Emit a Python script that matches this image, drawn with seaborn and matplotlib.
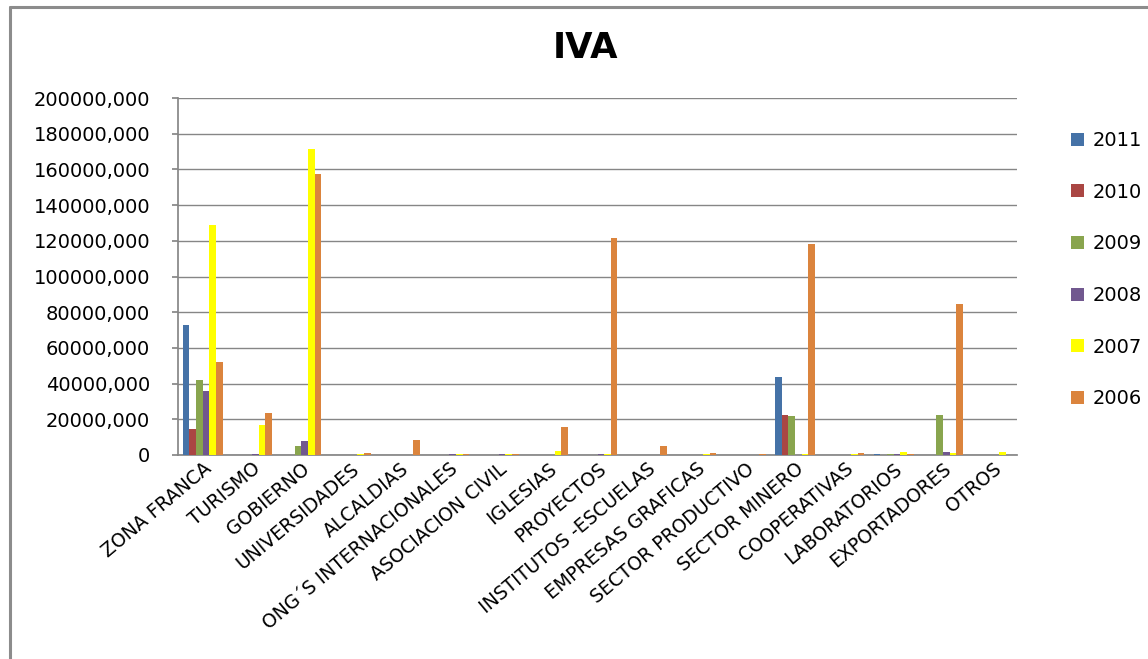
import matplotlib
matplotlib.use("Agg")
import matplotlib.pyplot as plt
from matplotlib.lines import Line2D
import seaborn as sns
import pandas as pd

categories = ["ZONA FRANCA", "TURISMO", "GOBIERNO", "UNIVERSIDADES", "ALCALDIAS",
              "ONG´S INTERNACIONALES", "ASOCIACION CIVIL", "IGLESIAS", "PROYECTOS",
              "INSTITUTOS -ESCUELAS", "EMPRESAS GRAFICAS", "SECTOR PRODUCTIVO",
              "SECTOR MINERO", "COOPERATIVAS", "LABORATORIOS", "EXPORTADORES", "OTROS"]
years = ["2011", "2010", "2009", "2008", "2007", "2006"]

v2011 = [73000, 0, 0, 0, 0, 0, 0, 0, 0, 0, 0, 0, 43700, 0, 800, 0, 0]
v2010 = [14500, 0, 0, 0, 0, 0, 0, 0, 0, 0, 0, 0, 22400, 0, 0, 0, 0]
v2009 = [42000, 0, 5000, 0, 0, 0, 0, 0, 0, 0, 0, 0, 21800, 0, 800, 22400, 0]
v2008 = [36000, 800, 7800, 0, 0, 800, 800, 0, 800, 0, 0, 0, 0, 0, 800, 1800, 0]
v2007 = [129000, 17000, 171500, 800, 0, 800, 800, 2200, 800, 0, 800, 0, 800, 800, 1800, 1200, 1800]
v2006 = [52000, 23500, 157500, 1200, 8400, 800, 800, 15700, 121500, 5000, 1200, 800, 118000, 1200, 800, 84500, 0]

colors = ["#4572A7", "#AA4643", "#89A54E", "#71588F", "#FFFF00", "#DB843D"]
yticks = [0, 20000, 40000, 60000, 80000, 100000, 120000, 140000, 160000, 180000, 200000]

series = [v2011, v2010, v2009, v2008, v2007, v2006]
rows = []
for y, vals in zip(years, series):
    for c, v in zip(categories, vals):
        rows.append({"cat": c, "year": y, "val": v})
df = pd.DataFrame(rows)

sns.set_theme(style="white")
plt.rcParams["font.family"] = ["DejaVu Sans"]
plt.rcParams["text.color"] = "black"
plt.rcParams["xtick.color"] = "black"
plt.rcParams["ytick.color"] = "black"

W, H = 1148, 659
fig = plt.figure(figsize=(W / 100, H / 100), dpi=100)
ax = fig.add_axes([178 / W, 1 - 455 / H, (1017 - 178) / W, (455 - 98) / H])

sns.barplot(data=df, x="cat", y="val", hue="year", order=categories, hue_order=years,
            palette=dict(zip(years, colors)), width=0.81, saturation=1, ax=ax,
            errorbar=None, edgecolor="none", linewidth=0)

ax.set_xlim(-0.5, len(categories) - 0.5)
ax.set_ylim(0, 200000)
ax.set_yticks(yticks)
ax.set_yticklabels(["0"] + [f"{t:d},000" for t in yticks[1:]], fontsize=14)
ax.yaxis.grid(True, color="#868686", linewidth=1.0)
ax.set_axisbelow(True)
ax.set_xlabel("")
ax.set_ylabel("")
for s in ["top", "right"]:
    ax.spines[s].set_visible(False)
ax.spines["left"].set_color("#868686")
ax.spines["bottom"].set_color("#868686")
ax.spines["bottom"].set_zorder(0.5)
ax.tick_params(axis="y", which="both", left=True, length=4, color="#868686", pad=16, labelcolor="black")
ax.tick_params(axis="x", length=0, pad=3, labelcolor="black")
ax.set_xticks(range(len(categories)))
ax.set_xticklabels(categories, rotation=40, ha="right", rotation_mode="anchor", fontsize=13.5)

handles, labels = ax.get_legend_handles_labels()
if ax.get_legend() is not None:
    ax.get_legend().remove()
fig.legend(handles, labels, loc="upper left", bbox_to_anchor=(1071 / W, 1 - 131 / H),
           frameon=False, fontsize=14, handlelength=0.65, handleheight=0.65,
           handletextpad=0.45, labelspacing=1.68, borderaxespad=0, borderpad=0,
           labelcolor="black")

fig.text(585 / W, 1 - 48 / H, "IVA", ha="center", va="center", fontsize=25.5,
         fontweight="bold", color="black")

fig.add_artist(Line2D([10 / W, 1.0], [1 - 7 / H, 1 - 7 / H], color="#8c8c8c", linewidth=2.2,
                      transform=fig.transFigure))
fig.add_artist(Line2D([10 / W, 10 / W], [0, 1 - 7 / H], color="#8c8c8c", linewidth=2.2,
                      transform=fig.transFigure))

fig.savefig("out.png", dpi=100)
